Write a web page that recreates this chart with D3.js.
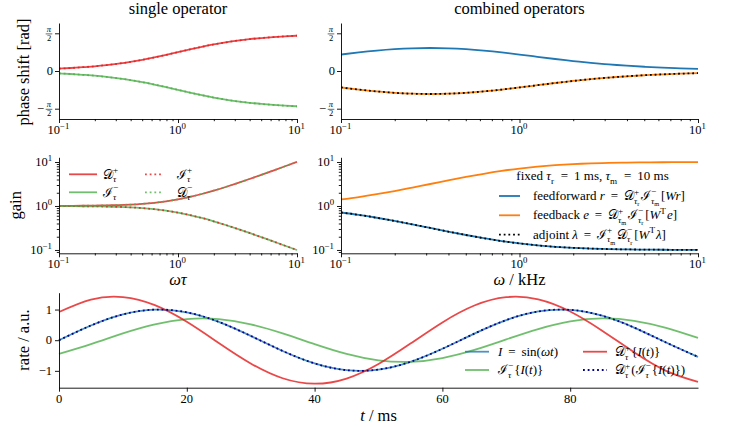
<!DOCTYPE html>
<html>
<head>
<meta charset="utf-8">
<script src="https://cdn.jsdelivr.net/npm/d3@7"></script>
<style>body{margin:0;background:#fff} svg text{white-space:pre}</style>
</head>
<body>
<script>
// frequency grid (omega*tau for the left column, omega in kHz for the right one)
var freq = [0.1, 0.1259, 0.1585, 0.1995, 0.2512, 0.3162, 0.3981, 0.5012, 0.631, 0.7943, 1,
  1.259, 1.585, 1.995, 2.512, 3.162, 3.981, 5.012, 6.31, 7.943, 10];

// single operator
var phaseUp = [0.0997, 0.1252, 0.1572, 0.1969, 0.2461, 0.3063, 0.3788, 0.4646, 0.5631, 0.671, 0.7854,
  0.8997, 1.0077, 1.1063, 1.1921, 1.2645, 1.3246, 1.3738, 1.4136, 1.4456, 1.4711];
var phaseDown = [-0.0997, -0.1252, -0.1572, -0.1969, -0.2461, -0.3063, -0.3788, -0.4646, -0.5631, -0.671, -0.7854,
  -0.8997, -1.0077, -1.1063, -1.1921, -1.2645, -1.3246, -1.3738, -1.4136, -1.4456, -1.4711];
var gainUp = [1.005, 1.0079, 1.0125, 1.0197, 1.031, 1.0488, 1.0763, 1.1186, 1.1824, 1.2771, 1.4142,
  1.6078, 1.8741, 2.2316, 2.7036, 3.3166, 4.1047, 5.1108, 6.3888, 8.0057, 10.05];
var gainDown = [0.995, 0.9922, 0.9877, 0.9807, 0.9699, 0.9535, 0.9291, 0.894, 0.8457, 0.783, 0.7071,
  0.622, 0.5336, 0.4481, 0.3699, 0.3015, 0.2436, 0.1957, 0.1565, 0.1249, 0.0995];

// combined operators
var phaseFF = [0.6857, 0.7745, 0.8505, 0.9094, 0.946, 0.9582, 0.9458, 0.9092, 0.8505, 0.7746, 0.6857,
  0.5919, 0.5001, 0.4144, 0.3389, 0.2747, 0.2211, 0.1771, 0.1414, 0.1126, 0.0897];
var phaseFB = [-0.6857, -0.7745, -0.8505, -0.9094, -0.946, -0.9582, -0.9458, -0.9092, -0.8505, -0.7746, -0.6857,
  -0.5919, -0.5001, -0.4144, -0.3389, -0.2747, -0.2211, -0.1771, -0.1414, -0.1126, -0.0897];
var gainFF = [0.7107, 0.6269, 0.5403, 0.4569, 0.3813, 0.3162, 0.2622, 0.2189, 0.1851, 0.1595, 0.1407,
  0.1273, 0.118, 0.1117, 0.1075, 0.1048, 0.1031, 0.102, 0.1012, 0.1008, 0.1005];
var gainFB = [1.407, 1.595, 1.851, 2.189, 2.623, 3.162, 3.814, 4.568, 5.402, 6.27, 7.107,
  7.855, 8.475, 8.953, 9.302, 9.542, 9.699, 9.804, 9.881, 9.921, 9.95];
var phaseAdj = phaseFB, gainAdj = gainFF;

// time domain, ms
var tms = [0, 5, 10, 15, 20, 25, 30, 35, 40, 45, 50, 55, 60, 65, 70, 75, 80, 85, 90, 95, 100];
var rateI = [0, 0.4794, 0.8415, 0.9975, 0.9093, 0.5985, 0.1411, -0.3508, -0.7568, -0.9775, -0.9589,
  -0.7055, -0.2794, 0.2151, 0.657, 0.938, 0.9894, 0.7985, 0.4121, -0.0752, -0.544];
var rateD = [0.92, 1.326, 1.407, 1.144, 0.601, -0.09, -0.758, -1.241, -1.42, -1.251, -0.776,
  -0.111, 0.581, 1.131, 1.404, 1.333, 0.936, 0.31, -0.393, -0.999, -1.36];
var rateInt = [-0.445, -0.126, 0.225, 0.52, 0.688, 0.688, 0.519, 0.223, -0.127, -0.447, -0.657,
  -0.706, -0.582, -0.316, 0.028, 0.364, 0.612, 0.71, 0.634, 0.403, 0.073];
var rateDI = rateI;

var xMajor = [0.1, 1, 10], xMinor = [0.2, 0.3, 0.4, 0.5, 0.6, 0.7, 0.8, 0.9, 2, 3, 4, 5, 6, 7, 8, 9];
var gMajor = [0.1, 1, 10], gMinor = [0.09, 0.2, 0.3, 0.4, 0.5, 0.6, 0.7, 0.8, 0.9, 2, 3, 4, 5, 6, 7, 8, 9];
var tTicks = [0, 20, 40, 60, 80], rTicks = [-1, 0, 1];

var RED = "#e41a1c", GREEN = "#4daf4a", BLUE = "#1f77b4", ORANGE = "#ff7f0e";
var FONT = "'Liberation Serif', 'DejaVu Serif', serif";
var cD = "\u{1D49F}", cI = "\u2110";
var EQ = "\u2009=\u2009 ";

var svg = d3.select("body").append("svg").attr("width", 737).attr("height", 427)
  .attr("font-family", FONT).style("display", "block");

function put(g, x, y, t, size, it) {
  var el = g.append("text").attr("x", x).attr("y", y).attr("font-size", size)
    .attr("font-style", it ? "italic" : "normal").text(t);
  return el.node().getComputedTextLength();
}
function run(g, x, y, items, size) {
  var w = 0;
  items.forEach(function (k) {
    if (k.sup || k.sub) {
      var a = k.sup ? run(g, x + w, y - size * 0.42, k.sup, size * 0.7) : 0;
      var b = k.sub ? run(g, x + w, y + size * 0.28, k.sub, size * 0.7) : 0;
      w += Math.max(a, b) + size * 0.08;
    } else {
      w += put(g, x + w, y, k.t, size, k.i);
    }
  });
  return w;
}
function math(x, y, items, size, anchor) {
  var grp = svg.append("g");
  var w = run(grp, 0, 0, items, size);
  var dx = anchor == "middle" ? w / 2 : anchor == "end" ? w : 0;
  grp.attr("transform", "translate(" + (x - dx) + "," + y + ")");
}

var P = {
  tl: { x0: 59, x1: 297, y0: 23, y1: 119 },
  tr: { x0: 341, x1: 698, y0: 23, y1: 119 },
  ml: { x0: 59, x1: 297, y0: 157.3, y1: 253.3 },
  mr: { x0: 341, x1: 698, y0: 157.3, y1: 253.3 },
  b: { x0: 59, x1: 698, y0: 292.7, y1: 387.7 }
};

function axis(p, x, y, xt, xm, yt, ym) {
  var g = svg.append("g");
  g.append("g").attr("transform", "translate(0," + p.y1 + ")")
    .call(d3.axisBottom(x).tickValues(xt).tickSize(4).tickSizeOuter(0).tickFormat(""));
  g.append("g").attr("transform", "translate(" + p.x0 + ",0)")
    .call(d3.axisLeft(y).tickValues(yt).tickSize(4).tickSizeOuter(0).tickFormat(""));
  if (xm) g.append("g").attr("transform", "translate(0," + p.y1 + ")")
    .call(d3.axisBottom(x).tickValues(xm).tickSize(2.2).tickFormat(""))
    .select(".domain").remove();
  if (ym) g.append("g").attr("transform", "translate(" + p.x0 + ",0)")
    .call(d3.axisLeft(y).tickValues(ym).tickSize(2.2).tickFormat(""))
    .select(".domain").remove();
  g.selectAll("path,line").attr("stroke", "#000").attr("stroke-width", 0.9);
}
function pow10(e) { return [{ t: "10" }, { sup: [{ t: e }] }]; }
function logX(p, x) {
  math(x(0.1), p.y1 + 15, pow10("\u22121"), 12.5, "middle");
  math(x(1), p.y1 + 15, pow10("0"), 12.5, "middle");
  math(x(10), p.y1 + 15, pow10("1"), 12.5, "middle");
}
function logY(p, y) {
  math(p.x0 - 6, y(0.1) + 4, pow10("\u22121"), 12.5, "end");
  math(p.x0 - 6, y(1) + 4, pow10("0"), 12.5, "end");
  math(p.x0 - 6, y(10) + 4, pow10("1"), 12.5, "end");
}
function piY(p, y) {
  var cx = p.x0 - 10;
  [Math.PI / 2, -Math.PI / 2].forEach(function (v) {
    var ty = y(v);
    svg.append("text").attr("x", cx).attr("y", ty - 1.2).attr("text-anchor", "middle")
      .attr("font-size", 8.5).attr("font-style", "italic").text("\u03c0");
    svg.append("line").attr("x1", cx - 3.3).attr("x2", cx + 3.3).attr("y1", ty + 0.6).attr("y2", ty + 0.6)
      .attr("stroke", "#000").attr("stroke-width", 0.6);
    svg.append("text").attr("x", cx).attr("y", ty + 7.8).attr("text-anchor", "middle")
      .attr("font-size", 8.5).text("2");
    if (v < 0) svg.append("text").attr("x", cx - 5).attr("y", ty + 4).attr("text-anchor", "end")
      .attr("font-size", 12.5).text("\u2212");
  });
  svg.append("text").attr("x", p.x0 - 6).attr("y", y(0) + 4.2).attr("text-anchor", "end")
    .attr("font-size", 12.5).text("0");
}

function curve(x, y, xs, ys, color, opts) {
  opts = opts || {};
  var pts = xs.map(function (d, i) { return [d, ys[i]]; });
  var line = d3.line().x(function (d) { return x(d[0]); }).y(function (d) { return y(d[1]); })
    .curve(d3.curveNatural);
  svg.append("path").attr("d", line(pts)).attr("fill", "none").attr("stroke", color)
    .attr("stroke-width", opts.w || 1.8).attr("stroke-opacity", opts.a || 1)
    .attr("stroke-dasharray", opts.dot ? "1.8,2.9" : null);
}
function key(x1, x2, y, color, opts) {
  opts = opts || {};
  svg.append("line").attr("x1", x1).attr("x2", x2).attr("y1", y).attr("y2", y)
    .attr("stroke", color).attr("stroke-width", opts.w || 1.8).attr("stroke-opacity", opts.a || 1)
    .attr("stroke-dasharray", opts.dot ? "1.8,2.9" : null);
}
var red = { a: 0.8 }, green = { a: 0.8 }, redDot = { a: 0.8, dot: 1 }, greenDot = { a: 0.8, dot: 1 };

// ---- top left: phase, single operator
var xL = d3.scaleLog().domain([0.1, 10]).range([P.tl.x0, P.tl.x1]);
var xR = d3.scaleLog().domain([0.1, 10]).range([P.tr.x0, P.tr.x1]);
var yPh = d3.scaleLinear().domain([-2, 2]).range([P.tl.y1, P.tl.y0]);
curve(xL, yPh, freq, phaseUp, RED, red);
curve(xL, yPh, freq, phaseDown, GREEN, green);
curve(xL, yPh, freq, phaseUp, RED, redDot);
curve(xL, yPh, freq, phaseDown, GREEN, greenDot);
axis(P.tl, xL, yPh, xMajor, xMinor, [-Math.PI / 2, 0, Math.PI / 2]);
logX(P.tl, xL); piY(P.tl, yPh);

// ---- top right: phase, combined
curve(xR, yPh, freq, phaseFF, BLUE);
curve(xR, yPh, freq, phaseFB, ORANGE);
curve(xR, yPh, freq, phaseAdj, "#000", { dot: 1 });
axis(P.tr, xR, yPh, xMajor, xMinor, [-Math.PI / 2, 0, Math.PI / 2]);
logX(P.tr, xR); piY(P.tr, yPh);

// ---- middle left: gain, single operator
var yG = d3.scaleLog().domain([0.084, 12.8]).range([P.ml.y1, P.ml.y0]);
curve(xL, yG, freq, gainUp, RED, red);
curve(xL, yG, freq, gainDown, GREEN, green);
curve(xL, yG, freq, gainDown, RED, redDot);
curve(xL, yG, freq, gainUp, GREEN, greenDot);
axis(P.ml, xL, yG, xMajor, xMinor, gMajor, gMinor);
logX(P.ml, xL); logY(P.ml, yG);

// ---- middle right: gain, combined
curve(xR, yG, freq, gainFF, BLUE);
curve(xR, yG, freq, gainFB, ORANGE);
curve(xR, yG, freq, gainAdj, "#000", { dot: 1 });
axis(P.mr, xR, yG, xMajor, xMinor, gMajor, gMinor);
logX(P.mr, xR); logY(P.mr, yG);

// ---- bottom: time domain
var xT = d3.scaleLinear().domain([0, 100]).range([P.b.x0, P.b.x1]);
var yT = d3.scaleLinear().domain([-1.55, 1.55]).range([P.b.y1, P.b.y0]);
curve(xT, yT, tms, rateI, BLUE, { a: 0.8 });
curve(xT, yT, tms, rateInt, GREEN, green);
curve(xT, yT, tms, rateD, RED, red);
curve(xT, yT, tms, rateDI, "#00008b", { dot: 1 });
axis(P.b, xT, yT, tTicks, null, rTicks);
tTicks.forEach(function (v) {
  svg.append("text").attr("x", xT(v)).attr("y", P.b.y1 + 15.5).attr("text-anchor", "middle")
    .attr("font-size", 12.5).text(v);
});
rTicks.forEach(function (v) {
  svg.append("text").attr("x", P.b.x0 - 7).attr("y", yT(v) + 4.2).attr("text-anchor", "end")
    .attr("font-size", 12.5).text(v < 0 ? "\u2212" + (-v) : v);
});

// ---- titles and labels
svg.append("text").attr("x", 178).attr("y", 13.5).attr("text-anchor", "middle").attr("font-size", 16.5).text("single operator");
svg.append("text").attr("x", 519.5).attr("y", 13.5).attr("text-anchor", "middle").attr("font-size", 16.5).text("combined operators");
function ylab(x, y, t) {
  svg.append("text").attr("transform", "translate(" + x + "," + y + ") rotate(-90)")
    .attr("text-anchor", "middle").attr("font-size", 16.5).text(t);
}
ylab(28.5, 72, "phase shift [rad]");
ylab(20.5, 205.3, "gain");
ylab(29, 340, "rate / a.u.");
math(178, 285, [{ t: "\u03c9\u03c4", i: 1 }], 16.5, "middle");
math(519.5, 285, [{ t: "\u03c9", i: 1 }, { t: " / kHz" }], 16.5, "middle");
math(378.5, 421, [{ t: "t", i: 1 }, { t: " / ms" }], 16.5, "middle");

// ---- legends
var tau = [{ t: "\u03c4", i: 1 }];
function op(c, s, sub) { return [{ t: c }, { sup: [{ t: s }], sub: sub }]; }
function tsub(r) { return [{ t: "\u03c4", i: 1 }, { sub: [{ t: r }] }]; }
var LS = 13;

key(69, 97, 174.3, RED, red); math(103, 178.5, op(cD, "+", tau), LS);
key(145, 163, 174.3, RED, redDot); math(177, 178.5, op(cI, "+", tau), LS);
key(69, 97, 192.3, GREEN, green); math(103, 196.5, op(cI, "\u2212", tau), LS);
key(145, 163, 192.3, GREEN, greenDot); math(177, 196.5, op(cD, "\u2212", tau), LS);

math(592.5, 180, [{ t: "fixed " }, { t: "\u03c4", i: 1 }, { sub: [{ t: "r" }] }, { t: " " + EQ + "1 ms, " },
  { t: "\u03c4", i: 1 }, { sub: [{ t: "m" }] }, { t: " " + EQ + "10 ms" }], LS, "middle");
key(499, 520, 196, BLUE); key(499, 520, 215.3, ORANGE); key(499, 520, 234.7, "#000", { dot: 1 });
math(533, 200, [{ t: "feedforward " }, { t: "r", i: 1 }, { t: " " + EQ }]
  .concat(op(cD, "+", tsub("r")), op(cI, "\u2212", tsub("m")), [{ t: "[" }, { t: "Wr", i: 1 }, { t: "]" }]), LS);
math(533, 219.3, [{ t: "feedback " }, { t: "e", i: 1 }, { t: " " + EQ }]
  .concat(op(cD, "+", tsub("m")), op(cI, "\u2212", tsub("r")),
    [{ t: "[" }, { t: "W", i: 1 }, { sup: [{ t: "T" }] }, { t: "e", i: 1 }, { t: "]" }]), LS);
math(533, 238.7, [{ t: "adjoint " }, { t: "\u03bb", i: 1 }, { t: " " + EQ }]
  .concat(op(cI, "+", tsub("m")), op(cD, "\u2212", tsub("r")),
    [{ t: "[" }, { t: "W", i: 1 }, { sup: [{ t: "T" }] }, { t: "\u03bb", i: 1 }, { t: "]" }]), LS);

var It = [{ t: "{" }, { t: "I", i: 1 }, { t: "(" }, { t: "t", i: 1 }, { t: ")}" }];
key(465, 489, 351.7, BLUE, { a: 0.8 });
math(498, 356, [{ t: "I", i: 1 }, { t: " " + EQ + "sin(" }, { t: "\u03c9t", i: 1 }, { t: ")" }], LS);
key(465, 489, 370, GREEN, green);
math(498, 374.3, op(cI, "\u2212", tau).concat(It), LS);
key(583, 607, 351.7, RED, red);
math(615, 356, op(cD, "+", tau).concat(It), LS);
key(583, 607, 370, "#00008b", { dot: 1 });
math(615, 374.3, op(cD, "+", tau).concat([{ t: "(" }], op(cI, "\u2212", tau), It, [{ t: ")" }]), LS);
</script>
</body>
</html>
